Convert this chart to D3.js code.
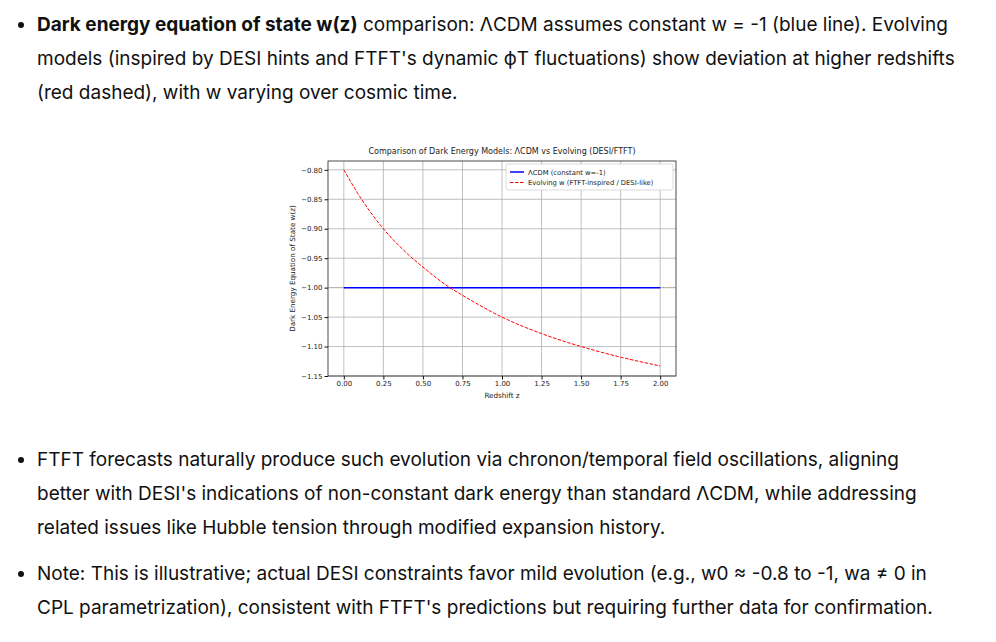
<!DOCTYPE html>
<html><head><meta charset="utf-8">
<script src="https://cdn.jsdelivr.net/npm/d3@7"></script>
<style>
body{margin:0;background:#fff;font-family:Inter,"Noto Sans",sans-serif;color:#111;font-size:19px;}
ul{margin:0;padding:0 0 0 37px;}
li{line-height:34px;}
.p1{position:absolute;left:0;top:8px;width:965px;}
.p2{position:absolute;left:0;top:443px;width:955px;}
li+li{margin-top:12px;}
svg{position:absolute;left:280px;top:140px;}
svg text{font-family:"DejaVu Sans",sans-serif;fill:#222;}
</style></head><body>
<div class="p1"><ul><li><b>Dark energy equation of state w(z)</b> comparison: ΛCDM assumes constant w = -1 (blue line). Evolving models (inspired by DESI hints and FTFT's dynamic ϕT fluctuations) show deviation at higher redshifts (red dashed), with w varying over cosmic time.</li></ul></div>
<svg id="c" width="410" height="265"></svg>
<div class="p2"><ul>
<li>FTFT forecasts naturally produce such evolution via chronon/temporal field oscillations, aligning better with DESI's indications of non-constant dark energy than standard ΛCDM, while addressing related issues like Hubble tension through modified expansion history.</li>
<li>Note: This is illustrative; actual DESI constraints favor mild evolution (e.g., w0 ≈ -0.8 to -1, wa ≠ 0 in CPL parametrization), consistent with FTFT's predictions but requiring further data for confirmation.</li>
</ul></div>
<script>
const z = [0, 0.1, 0.25, 0.4, 0.5, 0.67, 0.75, 1.0, 1.25, 1.5, 1.75, 2.0];
const wEvolving = [-0.80, -0.845, -0.90, -0.942, -0.965, -1.0, -1.013, -1.05, -1.078, -1.10, -1.118, -1.133];
const wLCDM = [-1, -1];
const zLCDM = [0, 2];
const xTicks = [0, 0.25, 0.5, 0.75, 1, 1.25, 1.5, 1.75, 2];
const yTicks = [-0.80, -0.85, -0.90, -0.95, -1.00, -1.05, -1.10, -1.15];

const svg = d3.select("#c");
const L = 48, R = 396, T = 21, B = 236;
const x = d3.scaleLinear().domain([-0.1, 2.1]).range([L, R]);
const y = d3.scaleLinear().domain([-1.15, -0.785]).range([B, T]);

svg.append("g").selectAll("line").data(xTicks).join("line")
  .attr("x1", d => x(d)).attr("x2", d => x(d)).attr("y1", T).attr("y2", B)
  .attr("stroke", "#b0b0b0").attr("stroke-width", 0.8);
svg.append("g").selectAll("line").data(yTicks).join("line")
  .attr("x1", L).attr("x2", R).attr("y1", d => y(d)).attr("y2", d => y(d))
  .attr("stroke", "#b0b0b0").attr("stroke-width", 0.8);

svg.append("g").attr("transform", `translate(0,${B})`)
  .call(d3.axisBottom(x).tickValues(xTicks).tickFormat(d3.format(".2f")).tickSize(3.5).tickPadding(2))
  .call(g => g.selectAll("text").attr("font-size", 7))
  .call(g => g.select(".domain").remove());
svg.append("g").attr("transform", `translate(${L},0)`)
  .call(d3.axisLeft(y).tickValues(yTicks).tickFormat(d => d3.format(".2f")(d).replace("-", "−")).tickSize(3.5).tickPadding(2))
  .call(g => g.selectAll("text").attr("font-size", 7))
  .call(g => g.select(".domain").remove());
svg.append("rect").attr("x", L).attr("y", T).attr("width", R - L).attr("height", B - T)
  .attr("fill", "none").attr("stroke", "#222").attr("stroke-width", 0.8);

svg.append("line").attr("x1", L).attr("x2", R).attr("y1", y(-1)).attr("y2", y(-1))
  .attr("stroke", "#888").attr("stroke-dasharray", "1,1.5").attr("stroke-width", 0.8);

const line = d3.line().x(d => x(d[0])).y(d => y(d[1]));
svg.append("path").datum(d3.zip(zLCDM, wLCDM)).attr("d", line)
  .attr("fill", "none").attr("stroke", "blue").attr("stroke-width", 1.5);
svg.append("path").datum(d3.zip(z, wEvolving)).attr("d", line.curve(d3.curveMonotoneX))
  .attr("fill", "none").attr("stroke", "red").attr("stroke-width", 1).attr("stroke-dasharray", "3.5,1.5");

svg.append("text").attr("x", (L + R) / 2).attr("y", 14).attr("text-anchor", "middle").attr("font-size", 8)
  .text("Comparison of Dark Energy Models: ΛCDM vs Evolving (DESI/FTFT)");
svg.append("text").attr("x", (L + R) / 2).attr("y", 258).attr("text-anchor", "middle").attr("font-size", 7.2).text("Redshift z");
svg.append("text").attr("transform", `translate(15,${(T + B) / 2}) rotate(-90)`).attr("text-anchor", "middle")
  .attr("font-size", 7.2).text("Dark Energy Equation of State w(z)");

const lg = svg.append("g").attr("transform", "translate(226,24)");
lg.append("rect").attr("width", 167).attr("height", 26).attr("rx", 2).attr("fill", "#fff").attr("stroke", "#ccc").attr("stroke-width", 0.7);
lg.append("line").attr("x1", 4).attr("x2", 18).attr("y1", 8).attr("y2", 8).attr("stroke", "blue").attr("stroke-width", 1.5);
lg.append("line").attr("x1", 4).attr("x2", 18).attr("y1", 18.5).attr("y2", 18.5).attr("stroke", "red").attr("stroke-dasharray", "3.5,1.5");
lg.append("text").attr("x", 22).attr("y", 10.5).attr("font-size", 6.8).text("ΛCDM (constant w=-1)");
lg.append("text").attr("x", 22).attr("y", 21).attr("font-size", 6.8).text("Evolving w (FTFT-inspired / DESI-like)");
</script>
</body></html>
